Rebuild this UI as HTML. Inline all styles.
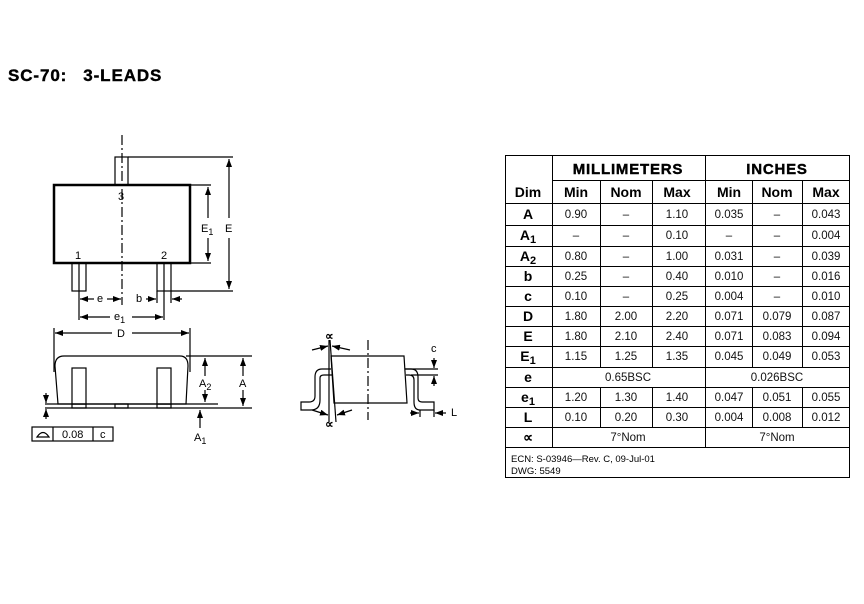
<!DOCTYPE html>
<html><head><meta charset="utf-8"><style>
html,body{margin:0;padding:0;background:#fff;}
svg{display:block;font-family:"Liberation Sans",Arial,sans-serif;}
</style></head><body>
<svg width="864" height="604" viewBox="0 0 864 604" xmlns="http://www.w3.org/2000/svg">
<defs>
<marker id="ar" markerWidth="8" markerHeight="6" refX="8" refY="3" orient="auto" markerUnits="userSpaceOnUse"><path d="M0,0 L8,3 L0,6 z" fill="#000"/></marker>
</defs>
<text x="8" y="81" font-size="17" font-weight="900" fill="#000" stroke="#000" stroke-width="0.4" style="letter-spacing:0.9px">SC-70:<tspan dx="16">3-LEADS</tspan></text>

<g stroke="#000" fill="none" stroke-width="1.2">
<rect x="115" y="157" width="13" height="28" fill="#fff"/>
<rect x="72" y="263" width="14" height="28" fill="#fff"/>
<rect x="157" y="263" width="14" height="28" fill="#fff"/>
<rect x="54" y="185" width="136" height="78" stroke-width="2.5" fill="#fff"/>
<line x1="122" y1="135" x2="122" y2="305" stroke-dasharray="10,3,2,3"/>
<line x1="79" y1="263" x2="79" y2="320"/>
<line x1="164" y1="263" x2="164" y2="320"/>
<line x1="157" y1="291" x2="157" y2="303"/>
<line x1="171" y1="291" x2="171" y2="303"/>
<line x1="128" y1="157" x2="233" y2="157"/>
<line x1="171" y1="291" x2="233" y2="291"/>
<line x1="190" y1="185" x2="211" y2="185"/>
<line x1="190" y1="263" x2="211" y2="263"/>
<line x1="229" y1="218" x2="229" y2="159" marker-end="url(#ar)"/>
<line x1="229" y1="238" x2="229" y2="289" marker-end="url(#ar)"/>
<line x1="208" y1="218" x2="208" y2="187" marker-end="url(#ar)"/>
<line x1="208" y1="238" x2="208" y2="261" marker-end="url(#ar)"/>
<line x1="94" y1="299" x2="80" y2="299" marker-end="url(#ar)"/>
<line x1="107" y1="299" x2="121" y2="299" marker-end="url(#ar)"/>
<line x1="146" y1="299" x2="156" y2="299" marker-end="url(#ar)"/>
<line x1="182" y1="299" x2="172" y2="299" marker-end="url(#ar)"/>
<line x1="110" y1="317" x2="80" y2="317" marker-end="url(#ar)"/>
<line x1="132" y1="317" x2="163" y2="317" marker-end="url(#ar)"/>
<line x1="54" y1="328" x2="54" y2="372"/>
<line x1="190" y1="328" x2="190" y2="372"/>
<line x1="112" y1="333" x2="55" y2="333" marker-end="url(#ar)"/>
<line x1="132" y1="333" x2="189" y2="333" marker-end="url(#ar)"/>
<path d="M64,356 L180,356 Q188,356 188,366 L186,404 L58,404 L55,366 Q55,356 64,356 Z" fill="#fff"/>
<rect x="72" y="368" width="14" height="36" fill="#fff"/>
<rect x="157" y="368" width="14" height="36" fill="#fff"/>
<rect x="72" y="404" width="14" height="4"/>
<rect x="157" y="404" width="14" height="4"/>
<rect x="115" y="404" width="13" height="4"/>
<line x1="45" y1="404" x2="218" y2="404"/>
<line x1="45" y1="408" x2="252" y2="408"/>
<line x1="186" y1="356" x2="252" y2="356"/>
<line x1="205" y1="376" x2="205" y2="358" marker-end="url(#ar)"/>
<line x1="205" y1="390" x2="205" y2="402" marker-end="url(#ar)"/>
<line x1="243" y1="376" x2="243" y2="358" marker-end="url(#ar)"/>
<line x1="243" y1="390" x2="243" y2="406" marker-end="url(#ar)"/>
<line x1="200" y1="428" x2="200" y2="410" marker-end="url(#ar)"/>
<line x1="46" y1="393" x2="46" y2="403" marker-end="url(#ar)"/>
<line x1="46" y1="419" x2="46" y2="409" marker-end="url(#ar)"/>
<rect x="32" y="427" width="81" height="14"/>
<line x1="53" y1="427" x2="53" y2="441"/>
<line x1="93" y1="427" x2="93" y2="441"/>
<path d="M37,437 Q43,428 49,437 Z"/>
<path d="M331,356 L404,356 L407,403 L334,403 Z" fill="#fff"/>
<line x1="368" y1="340" x2="368" y2="420" stroke-dasharray="10,3,2,3"/>
<line x1="329" y1="340" x2="329" y2="422"/>
<line x1="330" y1="340" x2="336" y2="422"/>
<path d="M331,369 L322,369 Q315,369 315,377 L315,396 Q315,402 309,402 L301,402 L301,410 L311,410 Q320,410 320,400 L320,378 Q320,375 324,375 L332,375"/>
<path d="M405,369 L411,369 Q418,369 418,377 L418,398 Q418,402 422,402 L434,402 L434,410 L420,410 Q414,410 414,402 L414,380 Q414,375 409,375 L406,375"/>
<line x1="405" y1="369" x2="438" y2="369"/>
<line x1="411" y1="375" x2="438" y2="375"/>
<line x1="434" y1="358" x2="434" y2="368" marker-end="url(#ar)"/>
<line x1="434" y1="386" x2="434" y2="376" marker-end="url(#ar)"/>
<line x1="420" y1="410" x2="420" y2="417"/>
<line x1="434" y1="410" x2="434" y2="417"/>
<line x1="410" y1="413" x2="419" y2="413" marker-end="url(#ar)"/>
<line x1="446" y1="413" x2="435" y2="413" marker-end="url(#ar)"/>
<line x1="312" y1="350" x2="328" y2="346" marker-end="url(#ar)"/>
<line x1="350" y1="350" x2="332" y2="346" marker-end="url(#ar)"/>
<line x1="312" y1="410" x2="328" y2="415" marker-end="url(#ar)"/>
<line x1="352" y1="410" x2="337" y2="415" marker-end="url(#ar)"/>
</g>

<g font-size="11" fill="#000">
<text x="118" y="200">3</text>
<text x="75" y="259">1</text>
<text x="161" y="259">2</text>
<text x="201" y="232">E<tspan font-size="9" dy="3">1</tspan></text>
<text x="225" y="232">E</text>
<text x="97" y="302">e</text>
<text x="136" y="302">b</text>
<text x="114" y="320">e<tspan font-size="9" dy="3">1</tspan></text>
<text x="117" y="337">D</text>
<text x="199" y="387">A<tspan font-size="9" dy="3">2</tspan></text>
<text x="239" y="387">A</text>
<text x="194" y="441">A<tspan font-size="9" dy="3">1</tspan></text>
<text x="62" y="438">0.08</text>
<text x="100" y="438">c</text>
<text x="431" y="352">c</text>
<text x="451" y="416">L</text>
<text x="325" y="340" font-weight="bold" font-size="12">∝</text>
<text x="325" y="428" font-weight="bold" font-size="12">∝</text>
</g>

<g stroke="#000" stroke-width="1" fill="none">
<rect x="505.5" y="155.5" width="344" height="322"/>
<line x1="552.5" y1="155" x2="552.5" y2="447"/>
<line x1="705.5" y1="155" x2="705.5" y2="447"/>
<line x1="600.5" y1="180" x2="600.5" y2="367"/><line x1="600.5" y1="387" x2="600.5" y2="427"/>
<line x1="652.5" y1="180" x2="652.5" y2="367"/><line x1="652.5" y1="387" x2="652.5" y2="427"/>
<line x1="752.5" y1="180" x2="752.5" y2="367"/><line x1="752.5" y1="387" x2="752.5" y2="427"/>
<line x1="802.5" y1="180" x2="802.5" y2="367"/><line x1="802.5" y1="387" x2="802.5" y2="427"/>
<line x1="552" y1="180.5" x2="850" y2="180.5"/>
<line x1="505" y1="203.5" x2="850" y2="203.5"/>
<line x1="505" y1="225.5" x2="850" y2="225.5"/>
<line x1="505" y1="246.5" x2="850" y2="246.5"/>
<line x1="505" y1="266.5" x2="850" y2="266.5"/>
<line x1="505" y1="286.5" x2="850" y2="286.5"/>
<line x1="505" y1="306.5" x2="850" y2="306.5"/>
<line x1="505" y1="326.5" x2="850" y2="326.5"/>
<line x1="505" y1="346.5" x2="850" y2="346.5"/>
<line x1="505" y1="367.5" x2="850" y2="367.5"/>
<line x1="505" y1="387.5" x2="850" y2="387.5"/>
<line x1="505" y1="407.5" x2="850" y2="407.5"/>
<line x1="505" y1="427.5" x2="850" y2="427.5"/>
<line x1="505" y1="447.5" x2="850" y2="447.5"/>
</g>
<g fill="#000" text-anchor="middle">
<text x="628" y="174" font-size="15" font-weight="900" stroke="#000" stroke-width="0.4" style="letter-spacing:0.8px">MILLIMETERS</text>
<text x="777" y="174" font-size="15" font-weight="900" stroke="#000" stroke-width="0.4" style="letter-spacing:0.8px">INCHES</text>
<g font-size="14" font-weight="bold">
<text x="528" y="197">Dim</text><text x="576" y="197">Min</text><text x="626" y="197">Nom</text><text x="677" y="197">Max</text><text x="729" y="197">Min</text><text x="777" y="197">Nom</text><text x="826" y="197">Max</text>
<text x="528" y="219">A</text>
<text x="528" y="240">A<tspan font-size="11" dy="3">1</tspan></text>
<text x="528" y="261">A<tspan font-size="11" dy="3">2</tspan></text>
<text x="528" y="281">b</text>
<text x="528" y="301">c</text>
<text x="528" y="321">D</text>
<text x="528" y="341">E</text>
<text x="528" y="361">E<tspan font-size="11" dy="3">1</tspan></text>
<text x="528" y="382">e</text>
<text x="528" y="402">e<tspan font-size="11" dy="3">1</tspan></text>
<text x="528" y="422">L</text>
<text x="528" y="442">∝</text>
</g>
<g font-size="11.5" fill="#111">
<text x="576" y="218">0.90</text><text x="626" y="218">–</text><text x="677" y="218">1.10</text><text x="729" y="218">0.035</text><text x="777" y="218">–</text><text x="826" y="218">0.043</text>
<text x="576" y="239">–</text><text x="626" y="239">–</text><text x="677" y="239">0.10</text><text x="729" y="239">–</text><text x="777" y="239">–</text><text x="826" y="239">0.004</text>
<text x="576" y="260">0.80</text><text x="626" y="260">–</text><text x="677" y="260">1.00</text><text x="729" y="260">0.031</text><text x="777" y="260">–</text><text x="826" y="260">0.039</text>
<text x="576" y="280">0.25</text><text x="626" y="280">–</text><text x="677" y="280">0.40</text><text x="729" y="280">0.010</text><text x="777" y="280">–</text><text x="826" y="280">0.016</text>
<text x="576" y="300">0.10</text><text x="626" y="300">–</text><text x="677" y="300">0.25</text><text x="729" y="300">0.004</text><text x="777" y="300">–</text><text x="826" y="300">0.010</text>
<text x="576" y="320">1.80</text><text x="626" y="320">2.00</text><text x="677" y="320">2.20</text><text x="729" y="320">0.071</text><text x="777" y="320">0.079</text><text x="826" y="320">0.087</text>
<text x="576" y="340">1.80</text><text x="626" y="340">2.10</text><text x="677" y="340">2.40</text><text x="729" y="340">0.071</text><text x="777" y="340">0.083</text><text x="826" y="340">0.094</text>
<text x="576" y="360">1.15</text><text x="626" y="360">1.25</text><text x="677" y="360">1.35</text><text x="729" y="360">0.045</text><text x="777" y="360">0.049</text><text x="826" y="360">0.053</text>
<text x="628" y="381">0.65BSC</text><text x="777" y="381">0.026BSC</text>
<text x="576" y="401">1.20</text><text x="626" y="401">1.30</text><text x="677" y="401">1.40</text><text x="729" y="401">0.047</text><text x="777" y="401">0.051</text><text x="826" y="401">0.055</text>
<text x="576" y="421">0.10</text><text x="626" y="421">0.20</text><text x="677" y="421">0.30</text><text x="729" y="421">0.004</text><text x="777" y="421">0.008</text><text x="826" y="421">0.012</text>
<text x="628" y="441">7°Nom</text><text x="777" y="441">7°Nom</text>
</g>
<g font-size="9.5" text-anchor="start">
<text x="511" y="462">ECN: S-03946—Rev. C, 09-Jul-01</text>
<text x="511" y="474">DWG:  5549</text>
</g>
</g>
</svg>
</body></html>
